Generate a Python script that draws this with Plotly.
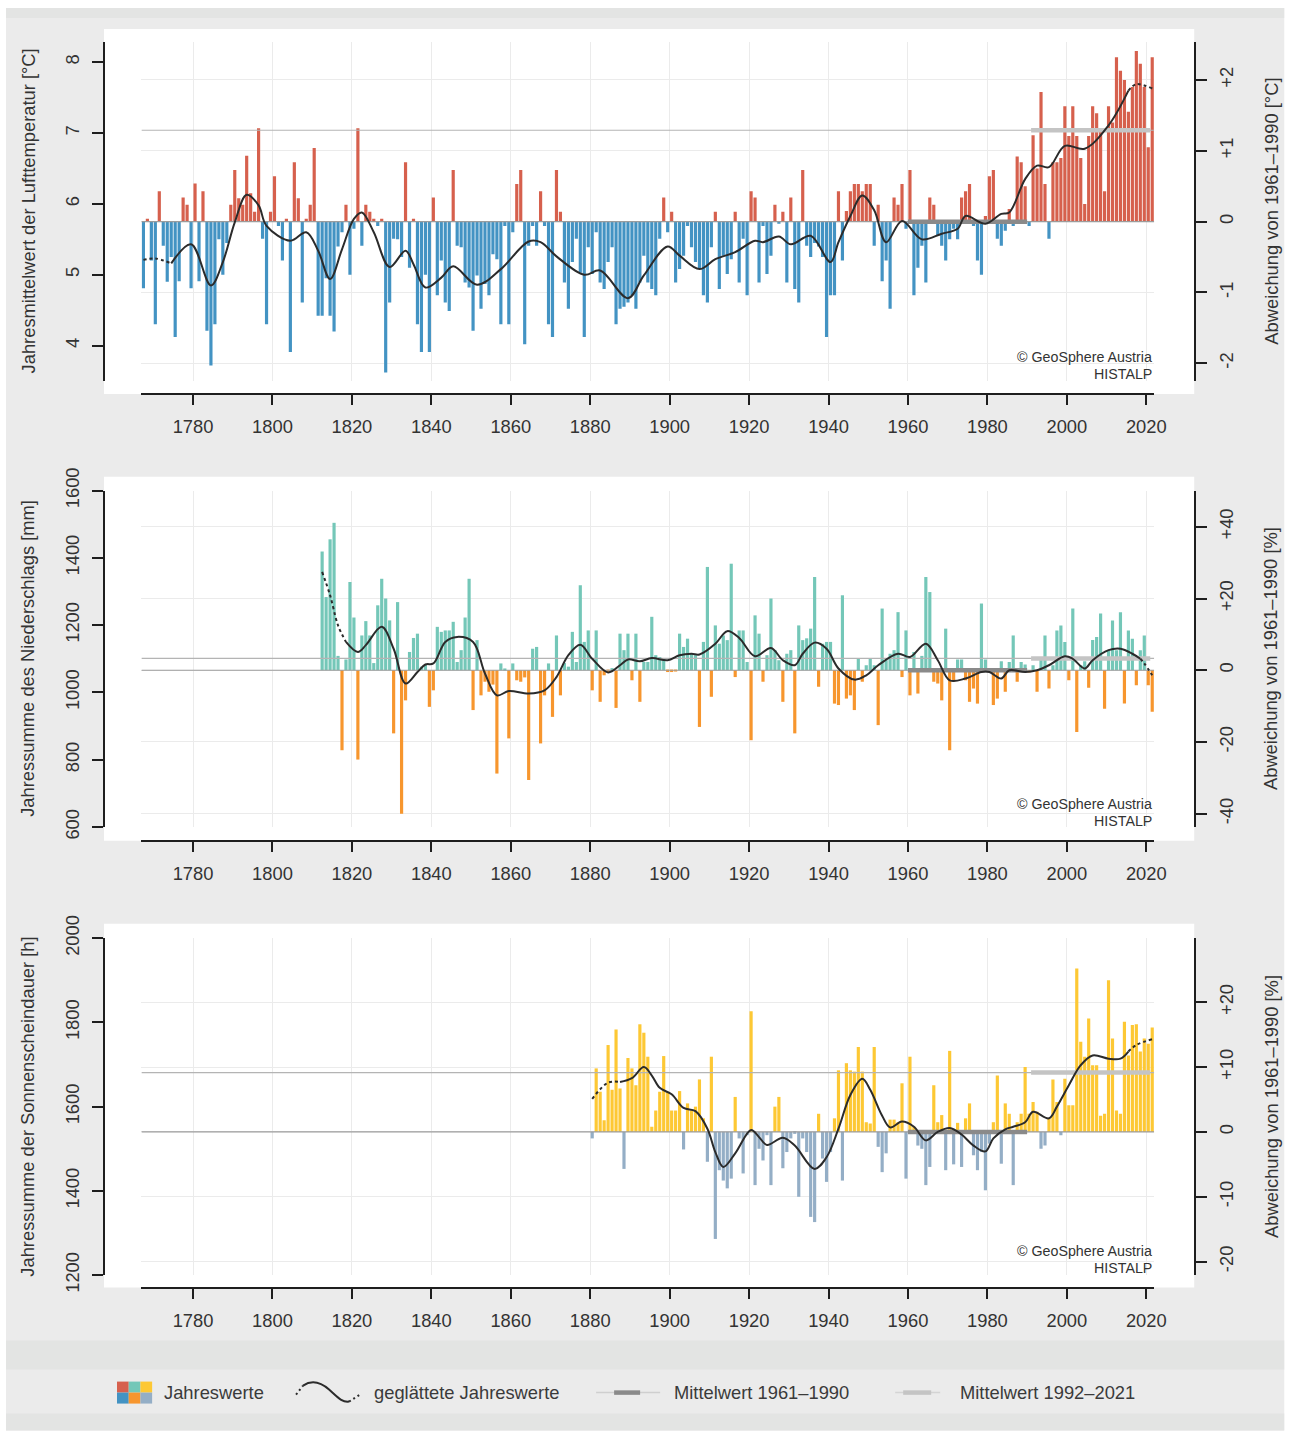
import plotly.graph_objects as go

# The page is photographed with a small fixed distortion (about 0.991 x 0.972
# with ~24 px at the top); the figure is sized so that it lands on the
# reference picture.  All positions below are given in reference pixels.
REF_W, REF_H = 1290, 1432
SX, SY, OY = 0.9906, 0.972, 24.0
W = int(round(REF_W / SX))
H = int(round((REF_H - OY) / SY))
FS = 1 / ((SX + SY) / 2)          # font scale compensation

FONT = "Liberation Sans, Arial, Helvetica, sans-serif"
INK = "#333333"
AXIS = "#1e1e1e"


def fx(p):
    return (p / SX) / W


def fy(p):
    return 1 - ((p - OY) / SY) / H


# ---------------------------------------------------------------- data
# Temperature: deviation from the 1961-1990 mean [°C], years 1768-2022
TEMP_YEARS = list(range(1768, 2023))
TEMP_ANOM = [
    -0.94, 0.04, -0.55, -1.45, 0.43, -0.34, -0.85, -0.5, -1.63, -0.84,
    0.34, 0.24, -0.94, 0.54, -0.84, 0.43, -1.54, -2.03, -1.45, -0.25,
    -0.75, -0.3, 0.24, 0.73, 0.33, 0.24, 0.93, 0.4, 0.14, 1.32,
    -0.24, -1.45, 0.14, 0.64, -0.06, -0.55, 0.04, -1.84, 0.84, 0.33,
    -1.14, 0.04, 0.24, 1.04, -1.33, -1.33, -0.8, -1.33, -1.55, -0.35,
    -0.15, 0.24, -0.75, -0.1, 1.32, -0.34, 0.24, 0.14, 0.04, -0.06,
    0.04, -2.13, -1.14, -0.24, -0.25, -0.5, 0.84, -0.65, 0.04, -1.45,
    -1.84, -0.75, -1.84, 0.34, -1.04, -0.55, -1.14, -1.26, 0.73, -0.34,
    -0.36, -0.86, -0.93, -1.54, -0.76, -1.23, -0.88, -1.04, -0.46, -0.53,
    -1.45, -0.06, -1.45, -0.15, 0.53, 0.73, -1.73, -0.34, -0.06, -0.34,
    0.43, -0.06, -1.45, -1.63, 0.73, 0.14, -0.86, -1.23, -0.57, -0.24,
    -0.72, -1.63, -0.36, -0.74, -0.15, -0.86, -0.95, -0.57, -0.36, -1.45,
    -1.23, -1.2, -1.14, -1.04, -1.23, -0.86, -0.48, -0.86, -0.95, -1.04,
    -0.24, 0.34, -0.15, 0.14, -0.86, -0.67, -0.48, -0.06, -0.36, -0.57,
    -0.67, -1.04, -1.14, -0.36, 0.14, -0.95, -0.48, -0.74, -0.53, 0.14,
    -0.86, -0.24, -1.04, 0.43, 0.34, -0.86, -0.06, -0.74, -0.48, 0.24,
    -0.03, 0.14, -0.86, 0.34, -0.95, -1.14, 0.73, -0.34, -0.5, -0.3,
    -0.35, -0.5, -1.63, -1.04, -1.04, 0.43, -0.55, 0.15, 0.43, 0.53,
    0.53, 0.43, 0.53, 0.53, -0.34, 0.24, -0.84, -0.55, -1.23, 0.34,
    0.24, 0.53, -0.1, 0.73, -1.04, -0.65, -0.34, -0.86, 0.34, 0.24,
    -0.2, -0.34, -0.55, -0.25, -0.1, -0.25, 0.34, 0.43, 0.53, -0.06,
    -0.55, -0.75, 0.08, 0.64, 0.73, -0.24, -0.34, -0.13, 0.18, -0.06,
    0.92, 0.84, 0.5, -0.06, 1.22, 0.75, 1.83, 0.53, -0.24, 0.84,
    0.84, 0.9, 1.63, 1.21, 1.63, 1.21, 0.9, 0.25, 1.21, 1.63,
    1.53, 1.3, 0.43, 1.63, 1.4, 2.32, 2.13, 2.0, 1.55, 1.9,
    2.41, 2.23, 1.9, 1.05, 2.32,
]
TEMP_MEAN_6190 = 5.75   # °C
TEMP_MEAN_9221 = 7.04   # °C
TEMP_SMOOTH_YEARS = [
    1768, 1771, 1775, 1780, 1785, 1788, 1791, 1794, 1797, 1799,
    1805, 1809, 1812, 1815, 1818, 1821, 1823, 1826, 1830, 1834,
    1836, 1839, 1843, 1846, 1852, 1858, 1865, 1868, 1872, 1879,
    1883, 1890, 1894, 1900, 1903, 1908, 1912, 1917, 1922, 1924,
    1928, 1931, 1936, 1941, 1943, 1946, 1949, 1952, 1955, 1959,
    1964, 1969, 1973, 1975, 1980, 1984, 1986, 1990, 1993, 1996,
    2000, 2005, 2011, 2016, 2018, 2022,
]
TEMP_SMOOTH = [
    -0.54, -0.52, -0.59, -0.32, -0.90, -0.57, -0.01, 0.38, 0.23, -0.06,
    -0.27, -0.15, -0.41, -0.81, -0.39, 0.04, 0.13, -0.15, -0.64, -0.41,
    -0.60, -0.93, -0.79, -0.63, -0.89, -0.67, -0.28, -0.29, -0.49, -0.75,
    -0.69, -1.08, -0.76, -0.35, -0.48, -0.67, -0.53, -0.43, -0.27, -0.29,
    -0.21, -0.32, -0.20, -0.57, -0.29, 0.08, 0.37, 0.16, -0.29, 0.01,
    -0.25, -0.17, -0.10, 0.08, -0.03, 0.11, 0.13, 0.60, 0.79, 0.77,
    1.07, 1.03, 1.36, 1.85, 1.94, 1.88,
]
TEMP_SOLID = (1775, 2016)

# Precipitation: deviation from the 1961-1990 mean [%], years 1813-2022
PREC_YEARS = list(range(1813, 2023))
PREC_ANOM = [
    33.1, 20.4, 36.5, 41.1, 4.0, -22.3, 3.0, 24.6, 14.7, -24.9,
    9.7, 13.7, 9.7, 2.0, 18.1, 25.5, 20.0, 13.9, -17.6, 19.0,
    -40.0, -8.4, 5.1, 9.0, 10.2, 1.0, 1.5, -10.2, -5.6, 12.1,
    10.7, 11.1, 11.1, 13.5, 2.3, 5.6, 14.7, 25.5, -11.1, 8.4,
    -7.0, -3.2, -6.0, -4.0, -28.8, 1.9, 0.5, -19.0, 1.9, -2.8,
    -3.2, -2.0, -30.6, 6.0, 6.5, -20.4, -7.0, 1.9, -13.0, 9.7,
    -7.0, 2.0, 1.0, 10.7, 2.3, 23.7, 7.9, 11.1, -5.6, 11.1,
    -8.8, -1.4, -0.5, 0.6, -10.5, 10.2, 5.6, 10.2, -2.8, 10.2,
    -8.8, 2.3, 2.3, 14.9, 4.2, 3.7, 3.2, -0.5, -0.5, -0.3,
    10.2, 6.5, 8.8, 4.6, 4.2, -15.8, 7.9, 28.8, -7.4, 12.5,
    7.4, 9.7, 8.4, 29.7, -1.9, 11.1, 11.1, 2.3, -19.5, 15.3,
    10.2, -3.2, 4.2, 20.0, 5.6, 2.8, -8.8, 4.6, 5.6, -17.6,
    12.5, 8.4, 8.9, 11.6, 26.0, -4.6, 7.4, 7.9, 7.9, -9.3,
    -9.7, 20.9, -7.9, -7.0, -11.1, 3.2, -3.2, 1.4, 3.2, 1.4,
    -15.3, 17.2, 2.8, 4.6, 5.6, 16.2, -1.9, 11.1, -7.0, 5.1,
    -6.5, 4.0, 26.0, 21.8, -3.2, -3.7, -8.4, 11.6, -22.3, -3.2,
    3.0, 3.0, -2.8, -8.8, -5.1, -9.3, 18.6, 3.0, -0.5, -9.7,
    -7.9, 2.5, -6.0, 2.3, 9.7, -3.2, 2.3, 1.6, -0.6, 1.4,
    -6.0, 3.0, 9.7, -5.1, 1.4, 11.1, 12.5, 7.9, -2.8, 17.2,
    -17.2, 1.4, 2.5, -4.9, 8.4, 9.3, 15.8, -10.7, 5.6, 13.9,
    5.6, 16.2, -9.3, 11.1, 8.8, -4.2, 5.6, 9.7, -4.2, -11.6,
]
PREC_MEAN_6190 = 1066   # mm
PREC_MEAN_9221 = 1101   # mm
PREC_SMOOTH_YEARS = [
    1813, 1815, 1817, 1819, 1822, 1824, 1828, 1831, 1834, 1837,
    1839, 1841, 1844, 1847, 1851, 1854, 1857, 1860, 1865, 1869,
    1872, 1875, 1878, 1881, 1885, 1888, 1890, 1893, 1896, 1900,
    1903, 1906, 1908, 1912, 1915, 1918, 1922, 1926, 1929, 1932,
    1934, 1937, 1940, 1943, 1947, 1950, 1953, 1958, 1961, 1965,
    1968, 1971, 1975, 1979, 1981, 1984, 1986, 1990, 1993, 1996,
    2000, 2002, 2005, 2007, 2011, 2014, 2017, 2019, 2020, 2022,
]
PREC_SMOOTH = [
    27.4, 20.9, 12.5, 7.9, 5.1, 7.0, 12.1, 6.0, -3.7, -0.5,
    1.6, 1.9, 7.9, 9.3, 7.9, -0.9, -7.0, -5.8, -6.5, -5.6,
    -1.9, 4.2, 7.1, 3.2, -0.6, 1.4, 3.0, 2.5, 3.4, 2.8,
    4.2, 4.6, 4.4, 7.4, 10.9, 9.0, 3.9, 6.2, 2.8, 1.4,
    4.6, 7.7, 6.0, 0.5, -2.6, -1.4, 1.4, 4.6, 3.7, 7.4,
    2.8, -2.8, -2.3, -0.5, -0.5, -2.3, 0.0, -0.5, 0.0, 1.4,
    3.9, 3.2, 0.5, 2.8, 5.6, 6.0, 4.6, 3.2, 1.9, -1.4,
]
PREC_SOLID = (1819, 2019)

# Sunshine duration: deviation from the 1961-1990 mean [%], years 1881-2022
SUN_YEARS = list(range(1881, 2023))
SUN_ANOM = [
    -1.0, 9.8, 6.2, 1.8, 13.4, 6.5, 15.8, 6.7, -5.7, 11.4,
    9.8, 7.2, 16.6, 15.3, 11.6, 0.8, 3.3, 6.2, 11.7, 6.2,
    3.3, 3.3, 6.3, -2.7, 4.4, 3.3, 3.9, 8.1, 2.1, -4.6,
    11.6, -16.5, -5.9, -7.5, -8.7, -7.2, 5.4, -1.0, -6.4, -0.5,
    18.6, -8.2, -2.6, -4.4, -0.5, -8.2, 3.9, 5.4, -5.6, -3.1,
    -1.0, -0.3, -10.0, -1.0, -3.1, -13.1, -13.9, 2.8, -4.1, -7.7,
    -3.1, 2.1, 9.5, -7.5, 10.6, 9.5, 9.3, 13.1, 9.3, 1.5,
    1.3, 13.1, -2.3, -6.2, -3.3, 1.9, 1.9, 1.5, 7.5, -7.2,
    11.6, 0.8, -2.1, -2.6, -8.2, -5.4, 7.2, 1.5, 2.6, -5.9,
    12.5, -5.0, 1.4, -5.4, 2.1, 4.4, -3.6, -5.9, -3.1, -9.0,
    -1.8, 1.5, 8.7, -4.9, 4.4, 2.8, -8.2, 1.5, 2.8, 10.0,
    2.8, 4.6, 3.1, -2.6, -2.1, 2.0, 8.1, 4.6, -0.5, 8.2,
    4.1, 4.1, 25.2, 13.9, 11.6, 17.5, 10.3, 10.3, 2.5, 2.8,
    23.4, 14.4, 3.3, 2.8, 17.0, 11.8, 16.5, 16.6, 12.4, 14.4,
    13.6, 16.1,
]
SUN_MEAN_6190 = 1540   # h
SUN_MEAN_9221 = 1681   # h
SUN_SMOOTH_YEARS = [
    1881, 1885, 1888, 1891, 1894, 1896, 1898, 1901, 1904, 1907,
    1910, 1912, 1914, 1917, 1921, 1923, 1925, 1929, 1932, 1937,
    1940, 1943, 1946, 1949, 1951, 1954, 1956, 1959, 1962, 1965,
    1968, 1971, 1974, 1977, 1980, 1982, 1985, 1987, 1990, 1992,
    1996, 1998, 2001, 2004, 2007, 2011, 2014, 2016, 2018, 2022,
]
SUN_SMOOTH = [
    5.1, 7.6, 7.7, 8.3, 10.0, 8.7, 6.8, 5.8, 3.7, 3.2,
    0.5, -3.1, -5.4, -3.3, 0.3, -0.8, -2.0, -0.9, -2.1, -5.7,
    -3.9, 0.5, 5.7, 8.2, 6.5, 2.5, 0.7, 1.6, 0.8, -1.3,
    0.0, 0.6, -0.4, -2.1, -3.0, -1.0, 0.4, 0.8, 1.5, 3.1,
    2.1, 3.9, 7.2, 10.3, 11.8, 11.3, 11.3, 12.4, 13.4, 14.3,
]
SUN_SOLID = (1888, 2016)

PERIOD_REF = (1961, 1990)
PERIOD_NEW = (1992, 2021)
X_RANGE = [1767, 2022]
X_TICKS = list(range(1780, 2021, 20))

LEGEND_LABELS = ["Jahreswerte", "geglättete Jahreswerte",
                 "Mittelwert 1961–1990", "Mittelwert 1992–2021"]

# ---------------------------------------------------------------- panels
PANELS = [
    dict(years=TEMP_YEARS, anom=TEMP_ANOM, kind="abs",
         mean1=TEMP_MEAN_6190, mean2=TEMP_MEAN_9221,
         sy=TEMP_SMOOTH_YEARS, sv=TEMP_SMOOTH, solid=TEMP_SOLID,
         pos="#d6604d", neg="#4393c3",
         left_range=[3.506, 8.282], left_ticks=[4, 5, 6, 7, 8],
         right_ticks=[-2, -1, 0, 1, 2],
         left_title="Jahresmittelwert der Lufttemperatur [°C]",
         right_title="Abweichung von 1961–1990 [°C]",
         top=43.3, bottom=381.7, xline=395, wtop=30),
    dict(years=PREC_YEARS, anom=PREC_ANOM, kind="pct",
         mean1=PREC_MEAN_6190, mean2=PREC_MEAN_9221,
         sy=PREC_SMOOTH_YEARS, sv=PREC_SMOOTH, solid=PREC_SOLID,
         pos="#74c7b8", neg="#f7962e",
         left_range=[600, 1600], left_ticks=[600, 800, 1000, 1200, 1400, 1600],
         right_ticks=[-40, -20, 0, 20, 40],
         left_title="Jahressumme des Niederschlags [mm]",
         right_title="Abweichung von 1961–1990 [%]",
         top=491.7, bottom=828.3, xline=842, wtop=478),
    dict(years=SUN_YEARS, anom=SUN_ANOM, kind="pct",
         mean1=SUN_MEAN_6190, mean2=SUN_MEAN_9221,
         sy=SUN_SMOOTH_YEARS, sv=SUN_SMOOTH, solid=SUN_SOLID,
         pos="#fdc834", neg="#94aec6",
         left_range=[1200, 2000], left_ticks=[1200, 1400, 1600, 1800, 2000],
         right_ticks=[-20, -10, 0, 10, 20, 30],
         left_title="Jahressumme der Sonnenscheindauer [h]",
         right_title="Abweichung von 1961–1990 [%]",
         top=939.5, bottom=1276.5, xline=1289, wtop=925),
]


def to_right(p, v):
    """absolute value (left axis) -> deviation (right axis)"""
    if p["kind"] == "abs":
        return v - p["mean1"]
    return (v / p["mean1"] - 1) * 100


def bar_height(p, a):
    if p["kind"] == "abs":
        return a
    return p["mean1"] * a / 100


def axkey(a):
    return a[0] + "axis" + a[1:]


fig = go.Figure()
layout = {}
shapes = []
annotations = []
tickfont = dict(size=18 * FS, color=INK, family=FONT)


def rect(x0, x1, y0, y1, color, layer="below"):
    return dict(type="rect", xref="paper", yref="paper", layer=layer,
                x0=fx(x0), x1=fx(x1), y0=fy(y1), y1=fy(y0),
                fillcolor=color, line_width=0)


# backgrounds
shapes.append(rect(6, 1284, 9, 1432, "#ebebeb"))
for a, b in [(9, 19), (1342, 1371), (1415, 1432)]:
    shapes.append(rect(6, 1284, a, b, "#e3e4e3"))
for p in PANELS:
    shapes.append(rect(104, 1194, p["wtop"], p["xline"], "white"))

for i, p in enumerate(PANELS):
    xa = "x" if i == 0 else f"x{i+1}"
    yl = "y" if i == 0 else f"y{2*i+1}"
    yr = f"y{2*i+2}"

    layout[axkey(xa)] = dict(
        domain=[fx(141.4), fx(1154)], range=X_RANGE, anchor="free",
        position=fy(p["xline"]), showline=True, linecolor=AXIS, linewidth=2,
        ticks="outside", ticklen=10, tickwidth=1.5, tickcolor=AXIS,
        tickvals=X_TICKS, ticktext=[str(t) for t in X_TICKS], tickfont=tickfont,
        ticklabelstandoff=6, showgrid=True, gridcolor="#ebebeb", gridwidth=1,
        zeroline=False, fixedrange=True)
    layout[axkey(yl)] = dict(
        domain=[fy(p["bottom"]), fy(p["top"])], range=p["left_range"],
        anchor="free", position=fx(104), side="left", showline=True,
        linecolor=AXIS, linewidth=2, ticks="outside", ticklen=11, tickwidth=1.5,
        tickcolor=AXIS, tickvals=p["left_ticks"],
        ticktext=[str(t) for t in p["left_ticks"]], tickangle=-90,
        tickfont=tickfont, ticklabelstandoff=6, showgrid=False, zeroline=False,
        fixedrange=True)
    rrange = [to_right(p, v) for v in p["left_range"]]
    layout[axkey(yr)] = dict(
        overlaying=yl, range=rrange, anchor="free", position=fx(1194.5),
        side="right", showline=True, linecolor=AXIS, linewidth=2,
        ticks="outside", ticklen=11, tickwidth=1.5, tickcolor=AXIS,
        tickvals=p["right_ticks"],
        ticktext=["0" if t == 0 else f"{t:+d}" for t in p["right_ticks"]],
        tickangle=-90, tickfont=tickfont, ticklabelstandoff=4,
        showgrid=True, gridcolor="#ebebeb", gridwidth=1, zeroline=False,
        fixedrange=True)

    # yearly bars (each year covers the interval ending at that year)
    xs = [y - 0.5 for y in p["years"]]
    fig.add_trace(go.Bar(
        x=xs, y=[bar_height(p, a) for a in p["anom"]], base=p["mean1"],
        marker=dict(color=[p["pos"] if a >= 0 else p["neg"] for a in p["anom"]],
                    line_width=0),
        xaxis=xa, yaxis=yl, showlegend=False, hoverinfo="skip"))

    m2 = to_right(p, p["mean2"])
    # thin mean lines across the whole period
    fig.add_trace(go.Scatter(x=X_RANGE, y=[0, 0], mode="lines",
                             line=dict(color="#9c9c9c", width=1.2),
                             xaxis=xa, yaxis=yr, showlegend=False, hoverinfo="skip"))
    fig.add_trace(go.Scatter(x=X_RANGE, y=[m2, m2], mode="lines",
                             line=dict(color="#b4b4b4", width=1.2),
                             xaxis=xa, yaxis=yr, showlegend=False, hoverinfo="skip"))
    # thick mean segments over their reference periods
    fig.add_trace(go.Scatter(x=[PERIOD_REF[0] - 1, PERIOD_REF[1]], y=[0, 0],
                             mode="lines", line=dict(color="#8a8a8a", width=4.5),
                             xaxis=xa, yaxis=yr, showlegend=False, hoverinfo="skip"))
    fig.add_trace(go.Scatter(x=[PERIOD_NEW[0] - 1, PERIOD_NEW[1]], y=[m2, m2],
                             mode="lines", line=dict(color="#c4c4c4", width=4.5),
                             xaxis=xa, yaxis=yr, showlegend=False, hoverinfo="skip"))

    # smoothed curve: dotted at both ends, solid in between
    s0, s1 = p["solid"]
    pts = list(zip(p["sy"], p["sv"]))
    parts = [
        ([q for q in pts if q[0] <= s0], "3px,3px"),
        ([q for q in pts if s0 <= q[0] <= s1], "solid"),
        ([q for q in pts if q[0] >= s1], "3px,3px"),
    ]
    for seg, dash in parts:
        if len(seg) < 2:
            continue
        fig.add_trace(go.Scatter(
            x=[q[0] - 0.5 for q in seg], y=[q[1] for q in seg], mode="lines",
            line=dict(color="#2b2b2b", width=2, dash=dash, shape="spline",
                      smoothing=1.0),
            xaxis=xa, yaxis=yr, showlegend=False, hoverinfo="skip"))

    mid = (p["top"] + p["bottom"]) / 2
    annotations.append(dict(text=p["left_title"], x=fx(28), y=fy(mid),
                            xref="paper", yref="paper", showarrow=False,
                            textangle=-90, xanchor="center", yanchor="middle",
                            font=dict(size=18 * FS, color=INK, family=FONT)))
    annotations.append(dict(text=p["right_title"], x=fx(1271), y=fy(mid),
                            xref="paper", yref="paper", showarrow=False,
                            textangle=-90, xanchor="center", yanchor="middle",
                            font=dict(size=18 * FS, color=INK, family=FONT)))
    for txt, off in [("© GeoSphere Austria", 37), ("HISTALP", 20)]:
        annotations.append(dict(text=txt, x=fx(1154), y=fy(p["xline"] - off),
                                xref="paper", yref="paper", showarrow=False,
                                xanchor="right", yanchor="middle",
                                font=dict(size=14 * FS, color=INK, family=FONT)))

# ---------------------------------------------------------------- legend
LY = 1394
cells = [[PANELS[0]["pos"], PANELS[1]["pos"], PANELS[2]["pos"]],
         [PANELS[0]["neg"], PANELS[1]["neg"], PANELS[2]["neg"]]]
cw, ch = 11.7, 11
for r, row in enumerate(cells):
    for c, col in enumerate(row):
        shapes.append(rect(117 + c * cw, 117 + (c + 1) * cw,
                           1383 + r * ch, 1383 + (r + 1) * ch, col, layer="above"))


def path(points, cmd):
    return cmd.format(*[v for xy in points for v in (fx(xy[0]), fy(xy[1]))])


shapes.append(dict(type="path", xref="paper", yref="paper",
                   path=path([(296, 1396), (303, 1387)], "M {0},{1} L {2},{3}"),
                   line=dict(color="#2b2b2b", width=2, dash="2px,3px")))
shapes.append(dict(type="path", xref="paper", yref="paper",
                   path=path([(303, 1387), (312, 1381), (320, 1383), (329, 1391),
                              (338, 1399), (342, 1404), (349, 1403)],
                             "M {0},{1} C {2},{3} {4},{5} {6},{7} C {8},{9} {10},{11} {12},{13}"),
                   line=dict(color="#2b2b2b", width=2)))
shapes.append(dict(type="path", xref="paper", yref="paper",
                   path=path([(349, 1403), (360, 1396)], "M {0},{1} L {2},{3}"),
                   line=dict(color="#2b2b2b", width=2, dash="2px,3px")))


def hline(x0, x1, y, color, width):
    return dict(type="line", xref="paper", yref="paper", x0=fx(x0), x1=fx(x1),
                y0=fy(y), y1=fy(y), line=dict(color=color, width=width))


shapes.append(hline(596, 660, LY, "#cfcfcf", 1.5))
shapes.append(hline(614, 640, LY, "#8a8a8a", 4.5))
shapes.append(hline(895, 940, LY, "#d4d4d4", 1.5))
shapes.append(hline(903, 931, LY, "#c4c4c4", 4.5))
for txt, x in zip(LEGEND_LABELS, [162, 372, 672, 958]):
    annotations.append(dict(text=txt, x=fx(x), y=fy(LY), xref="paper", yref="paper",
                            showarrow=False, xanchor="left", yanchor="middle",
                            font=dict(size=18 * FS, color="#3a3a3a", family=FONT)))

fig.update_layout(
    width=W, height=H, margin=dict(l=0, r=0, t=0, b=0, pad=0),
    paper_bgcolor="white", plot_bgcolor="rgba(0,0,0,0)",
    bargap=0.2, showlegend=False, font=dict(family=FONT, color=INK),
    shapes=shapes, annotations=annotations, **layout)

# pin the figure to the top-left corner of the page (no body margin)
PIN_JS = (
    "document.documentElement.style.margin='0';"
    "document.body.style.margin='0';document.body.style.padding='0';"
    "var gd=document.getElementById('{plot_id}');"
    "gd.style.position='absolute';gd.style.left='0px';gd.style.top='0px';"
)

fig.write_html("out.html", config={"displayModeBar": False}, post_script=PIN_JS)
